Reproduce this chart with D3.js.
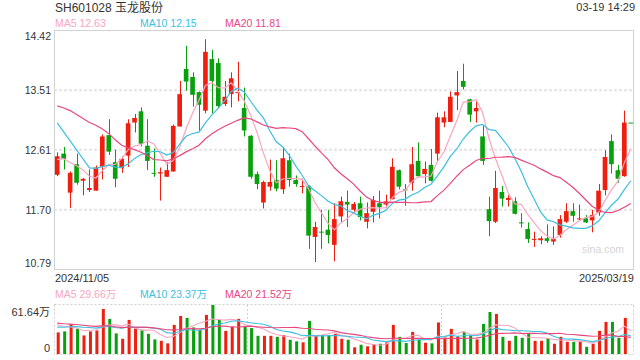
<!DOCTYPE html>
<html><head><meta charset="utf-8">
<script src="https://cdn.jsdelivr.net/npm/d3@7/dist/d3.min.js"></script>
<style>
body{margin:0;background:#fff}
svg{display:block}
text{font-family:"Liberation Sans",Arial,"Noto Sans CJK SC",sans-serif}
</style>
</head><body>
<svg id="chart" width="640" height="360"></svg>
<script>
// ---------- data ----------
const title = "SH601028 玉龙股份";
const stamp = "03-19 14:29";
const dates = [
"2024/11/05","2024/11/06","2024/11/07","2024/11/08","2024/11/11","2024/11/12","2024/11/13","2024/11/14","2024/11/15","2024/11/18",
"2024/11/19","2024/11/20","2024/11/21","2024/11/22","2024/11/25","2024/11/26","2024/11/27","2024/11/28","2024/11/29","2024/12/02",
"2024/12/03","2024/12/04","2024/12/05","2024/12/06","2024/12/09","2024/12/10","2024/12/11","2024/12/12","2024/12/13","2024/12/16",
"2024/12/17","2024/12/18","2024/12/19","2024/12/20","2024/12/23","2024/12/24","2024/12/25","2024/12/26","2024/12/27","2024/12/30",
"2024/12/31","2025/01/02","2025/01/03","2025/01/06","2025/01/07","2025/01/08","2025/01/09","2025/01/10","2025/01/13","2025/01/14",
"2025/01/15","2025/01/16","2025/01/17","2025/01/20","2025/01/21","2025/01/22","2025/01/23","2025/01/24","2025/01/27","2025/02/05",
"2025/02/06","2025/02/07","2025/02/10","2025/02/11","2025/02/12","2025/02/13","2025/02/14","2025/02/17","2025/02/18","2025/02/19",
"2025/02/20","2025/02/21","2025/02/24","2025/02/25","2025/02/26","2025/02/27","2025/02/28","2025/03/03","2025/03/04","2025/03/05",
"2025/03/06","2025/03/07","2025/03/10","2025/03/11","2025/03/12","2025/03/13","2025/03/14","2025/03/17","2025/03/18","2025/03/19"];
const open = [12.23,12.55,11.96,12.39,12.14,12.00,11.99,12.35,12.83,12.42,
12.33,12.52,13.02,13.19,12.67,12.26,12.25,12.20,12.28,12.96,
13.83,13.71,13.48,13.20,13.98,13.92,13.30,13.45,13.47,13.24,
12.82,12.24,11.81,12.05,12.15,12.01,12.45,12.15,12.05,12.06,
11.29,11.37,11.40,11.17,11.60,11.82,11.70,11.80,11.52,11.67,
11.80,11.78,11.86,12.30,12.01,12.11,12.44,12.24,12.38,12.55,
13.02,13.03,13.43,13.65,13.37,13.19,12.81,11.71,11.52,11.97,
11.85,11.83,11.51,11.41,11.25,11.24,11.27,11.22,11.32,11.52,
11.68,11.56,11.57,11.54,11.66,12.00,12.74,12.30,12.21,13.02];
const high = [12.57,12.65,12.28,12.55,12.18,12.31,12.37,12.84,13.07,12.61,
12.51,13.07,13.15,13.25,13.07,12.63,12.34,12.42,12.99,13.65,
14.18,13.78,13.49,14.28,14.12,13.99,13.65,13.78,13.94,13.55,
12.83,12.28,12.14,12.46,12.45,12.65,12.55,12.22,12.17,12.07,
11.52,11.70,11.70,11.80,11.90,11.99,11.82,11.90,11.81,11.91,
11.99,11.93,12.48,12.31,12.09,12.65,12.72,12.43,12.62,13.17,
13.19,13.49,13.80,13.91,13.38,13.36,12.98,11.90,12.29,12.06,
11.92,11.89,11.65,11.51,11.37,11.30,11.48,11.45,11.62,11.80,
11.80,11.78,11.62,11.70,12.09,12.60,12.84,12.38,13.20,13.02];
const low = [12.21,12.31,11.73,12.08,11.92,11.97,11.99,12.16,12.53,12.04,
12.26,12.35,12.87,12.66,12.30,12.20,11.84,12.20,12.28,12.96,
13.50,13.26,12.89,13.16,13.16,13.24,13.27,13.25,13.34,12.81,
12.17,12.01,11.72,11.99,11.98,11.94,12.05,12.05,11.95,11.11,
10.91,11.11,11.19,10.92,11.51,11.44,11.66,11.54,11.42,11.51,
11.57,11.73,11.86,12.01,11.76,11.99,12.20,12.10,12.13,12.44,
12.95,13.03,13.21,13.52,13.03,13.02,12.38,11.30,11.50,11.75,
11.75,11.63,11.43,11.20,11.14,11.18,11.20,11.17,11.28,11.50,
11.52,11.53,11.50,11.36,11.61,11.92,12.25,12.11,12.20,13.02];
const close = [12.51,12.47,12.26,12.11,12.17,12.03,12.34,12.81,12.58,12.17,
12.47,13.01,13.09,12.70,12.44,12.25,12.27,12.30,12.97,13.45,
13.64,13.44,13.29,14.09,13.65,13.27,13.41,13.69,13.48,12.90,
12.20,12.09,12.12,12.12,12.02,12.48,12.15,12.09,12.06,11.31,
11.44,11.36,11.32,11.56,11.83,11.78,11.79,11.59,11.65,11.85,
11.74,11.83,12.35,12.05,12.00,12.39,12.21,12.32,12.14,13.10,
13.10,13.41,13.48,13.56,13.14,13.24,12.44,11.53,12.03,11.87,
11.88,11.64,11.50,11.26,11.26,11.27,11.23,11.26,11.56,11.68,
11.61,11.57,11.51,11.62,11.99,12.50,12.39,12.17,13.02,13.02];
// volume, 万股
const volume = [27.8,29.1,38.4,32.4,23.9,29.1,30.3,58.0,45.2,26.5,
19.6,43.9,32.9,31.1,26.0,18.8,17.0,13.7,37.5,49.0,
46.5,34.2,31.1,50.3,63.1,43.9,29.8,35.5,45.2,36.2,
33.3,23.4,23.4,23.4,22.1,24.3,18.3,16.3,15.0,42.6,
24.3,24.3,24.3,26.0,19.6,18.3,8.6,11.9,9.9,12.4,
13.2,15.0,37.5,22.1,14.1,28.5,18.3,14.5,13.7,40.6,
21.4,32.4,22.7,28.5,23.9,18.8,38.8,54.1,51.6,22.1,
17.0,23.4,20.9,26.5,17.0,17.0,20.5,13.2,22.1,15.7,
15.7,16.3,9.3,13.2,29.8,41.3,41.3,20.9,46.5,0];
// sessions before the window (estimated, only feed the moving averages)
const priorCloses = [13.10,13.05,13.30,13.40,13.20,13.20,13.90,14.00,14.05,14.10,
13.83,13.62,13.47,13.53,13.39,12.40,12.55,12.35,12.49];
const priorVolumes = [45,48,40,44,46,42,47,43,50,43,30,33,31,32,32.5,38,42,40,39.7];
const priceTicks = [14.42,13.51,12.61,11.70,10.79];
const volTicks = [61.64,0];
const maPeriods = [5,10,20];
const priceLegend = ["MA5 12.63","MA10 12.15","MA20 11.81"];
const volLegend = ["MA5 29.66万","MA10 23.37万","MA20 21.52万"];

// ---------- styles ----------
const UP="#f01e0e", DOWN="#08a00c";
const MA_COL=["#f8a6c2","#3cbfe2","#e9487f"];
const L=54,R=634,PT=30,PB=270,VT=305,VB=354;

const svg=d3.select("#chart");
const n=close.length;
const x=d3.scaleLinear().domain([-0.5,n-0.5]).range([L,R]);
const step=x(1)-x(0);
const y=d3.scaleLinear().domain([10.79,14.42]).range([PB,PT]);
const yv=d3.scaleLinear().domain([0,d3.max(volume)]).range([VB,VT]);

function movingAvg(prior,vals,p){
  const all=prior.concat(vals), off=prior.length;
  return vals.map((_,i)=>{const k=i+off; return d3.mean(all.slice(k-p+1,k+1));});
}

// header texts
svg.append("text").attr("x",55).attr("y",12).attr("font-size",12).attr("fill","#333").text(title);
svg.append("text").attr("x",635).attr("y",11).attr("font-size",11).attr("fill","#333").attr("text-anchor","end").text(stamp);
const legX=[55,140,225];
priceLegend.forEach((t,k)=>svg.append("text").attr("x",legX[k]).attr("y",27).attr("font-size",10.5).attr("fill",MA_COL[k]).text(t));
volLegend.forEach((t,k)=>svg.append("text").attr("x",legX[k]).attr("y",298).attr("font-size",10.5).attr("fill",MA_COL[k]).text(t));

// price grid
svg.append("g").selectAll("line").data(priceTicks.slice(1,-1)).join("line")
  .attr("x1",L).attr("x2",R).attr("y1",d=>y(d)).attr("y2",d=>y(d))
  .attr("stroke","#e4e4e4").attr("stroke-width",2).attr("stroke-dasharray","3,2");
// price border
svg.append("rect").attr("x",L+0.5).attr("y",PT+0.5).attr("width",R-L-1).attr("height",PB-PT-1)
  .attr("fill","none").attr("stroke","#d2d2d2");

// price axis labels
const ay=svg.append("g").attr("transform",`translate(${L},0)`)
  .call(d3.axisLeft(y).tickValues(priceTicks).tickSize(0).tickPadding(3).tickFormat(d3.format(".2f")));
ay.select(".domain").remove();
ay.selectAll("text").attr("font-size",10.5).attr("fill","#333").attr("font-family",null)
  .attr("dy",d=>d===priceTicks[0]?"0.95em":(d===priceTicks[priceTicks.length-1]?"-0.3em":"0.32em"));

// watermark
svg.append("text").attr("x",582).attr("y",253).attr("font-size",10.5).attr("fill","#d4d4d4").text("sina.com");

// candles
const bw=step*0.72;
const cg=svg.append("g");
close.forEach((c,i)=>{
  const o=open[i], up=c>o, col=up?UP:DOWN, cx=Math.round(x(i))+0.5;
  cg.append("line").attr("x1",cx).attr("x2",cx).attr("y1",y(high[i])).attr("y2",y(low[i])).attr("stroke",col).attr("stroke-width",1);
  const top=y(Math.max(o,c)), h=Math.max(1,Math.abs(y(o)-y(c)));
  cg.append("rect").attr("x",x(i)-bw/2).attr("y",top).attr("width",bw).attr("height",h).attr("fill",col);
});

// price MAs
const line=d3.line().x((d,i)=>x(i)).y(d=>y(d)).curve(d3.curveLinear);
maPeriods.forEach((p,k)=>{
  svg.append("path").attr("d",line(movingAvg(priorCloses,close,p))).attr("fill","none")
    .attr("stroke",MA_COL[k]).attr("stroke-width",1.2);
});

// x labels
svg.append("text").attr("x",x(0)-step/2+1).attr("y",281.5).attr("font-size",11).attr("fill","#333").text(dates[0]);
svg.append("text").attr("x",R).attr("y",281.5).attr("font-size",11).attr("fill","#333").attr("text-anchor","end").text(dates[n-1]);

// volume panel frame (dotted)
const vf=svg.append("g").attr("stroke","#d0d0d0").attr("stroke-dasharray","2,2").attr("fill","none");
vf.append("rect").attr("x",L+0.5).attr("y",VT-0.5).attr("width",R-L-1).attr("height",VB-VT+1);
[1,2].forEach(k=>{const xx=Math.round(L+(R-L)*k/3)+0.5;
  vf.append("line").attr("x1",xx).attr("x2",xx).attr("y1",VT).attr("y2",VB);});

// volume bars
svg.append("g").selectAll("rect").data(volume).join("rect")
  .attr("x",(d,i)=>x(i)-0.5).attr("width",3)
  .attr("y",d=>yv(d)).attr("height",d=>VB-yv(d))
  .attr("fill",(d,i)=>close[i]>open[i]?UP:DOWN);

// volume MAs
const vline=d3.line().x((d,i)=>x(i)).y(d=>yv(d));
maPeriods.forEach((p,k)=>{
  svg.append("path").attr("d",vline(movingAvg(priorVolumes,volume,p))).attr("fill","none")
    .attr("stroke",MA_COL[k]).attr("stroke-width",1.1);
});

// volume axis labels
const av=svg.append("g").attr("transform",`translate(${L-3},0)`)
  .call(d3.axisLeft(yv).tickValues(volTicks).tickSize(0).tickPadding(1).tickFormat(d=>d===0?"0":d+"万"));
av.select(".domain").remove();
av.selectAll("text").attr("font-size",11).attr("fill","#333").attr("font-family",null)
  .attr("dy",d=>d===0?"-0.2em":"0.85em");
</script>
</body></html>
